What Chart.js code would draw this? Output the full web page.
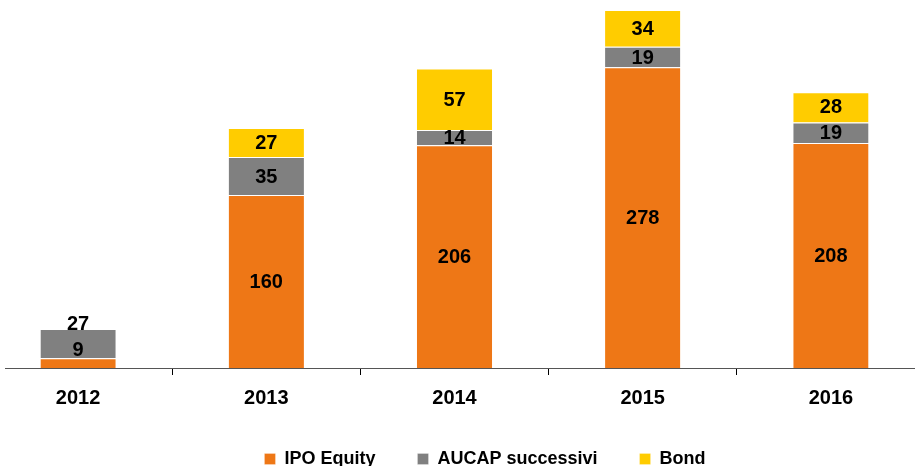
<!DOCTYPE html>
<html>
<head>
<meta charset="utf-8">
<script src="https://cdn.jsdelivr.net/npm/chart.js@4"></script>
<style>
    html, body { margin: 0; padding: 0; background: #fff; overflow: hidden; }
    #frame { position: absolute; left: 5px; top: 0; width: 910px; height: 466px; overflow: hidden; }
    #fundChart { position: absolute; left: -21px; top: 0; }
</style>
</head>
<body>
<div id="frame">
    <canvas id="fundChart" width="1002" height="478"></canvas>
</div>
<script>
const years = ['2012', '2013', '2014', '2015', '2016'];
const ipoEquity = [9, 160, 206, 278, 208];
const aucap = [27, 35, 14, 19, 19];
const bond = [null, 27, 57, 34, 28];

const labelFont = 'bold 20px "Liberation Sans", Arial, sans-serif';

// writes the value inside each segment, pushing small ones upward so they don't collide
const segmentLabels = {
    id: 'segmentLabels',
    afterDatasetsDraw(chart) {
        const ctx = chart.ctx;
        ctx.save();
        ctx.font = labelFont;
        ctx.fillStyle = '#000';
        ctx.textAlign = 'center';
        ctx.textBaseline = 'middle';
        years.forEach((y, i) => {
            let prev = null;
            chart.data.datasets.forEach((ds, d) => {
                const v = ds.data[i];
                if (v == null) return;
                const bar = chart.getDatasetMeta(d).data[i];
                let cy = (bar.y + bar.base) / 2;
                if (d === 0) cy = Math.min(cy, bar.base - 19);
                if (prev !== null) cy = Math.min(cy, prev - 26);
                ctx.fillText(String(v), bar.x, cy + 1);
                prev = cy;
            });
        });
        ctx.restore();
    }
};

new Chart(document.getElementById('fundChart'), {
    type: 'bar',
    data: {
        labels: years,
        datasets: [
            { label: 'IPO Equity', data: ipoEquity, backgroundColor: '#EE7716' },
            { label: 'AUCAP successivi', data: aucap, backgroundColor: '#808080' },
            { label: 'Bond', data: bond, backgroundColor: '#FFCC00' }
        ]
    },
    options: {
        responsive: false,
        animation: false,
        devicePixelRatio: 1,
        layout: { padding: { top: 10, left: 0, right: 0, bottom: 0 } },
        datasets: {
            bar: { barPercentage: 0.5, categoryPercentage: 0.8, borderColor: '#fff', borderWidth: { top: 1 }, borderSkipped: 'bottom' }
        },
        scales: {
            x: {
                stacked: true,
                grid: { display: true, drawOnChartArea: false, drawTicks: true, tickLength: 7, color: '#000' },
                border: { display: true, color: '#555', width: 1 },
                ticks: { color: '#000', font: { family: '"Liberation Sans", Arial, sans-serif', size: 20, weight: 'bold' }, padding: 11 },
                afterFit(scale) { scale.height = 40; }
            },
            y: {
                stacked: true,
                position: 'right',
                min: 0,
                max: 331,
                grid: { display: false },
                border: { display: false },
                ticks: { display: false },
                afterFit(scale) { scale.width = 61; }
            }
        },
        plugins: {
            legend: {
                position: 'bottom',
                labels: {
                    boxWidth: 11,
                    boxHeight: 11,
                    padding: 42,
                    color: '#000',
                    font: { family: '"Liberation Sans", Arial, sans-serif', size: 18, weight: 'bold' }
                }
            },
            tooltip: { enabled: false }
        }
    },
    plugins: [segmentLabels]
});
</script>
</body>
</html>
